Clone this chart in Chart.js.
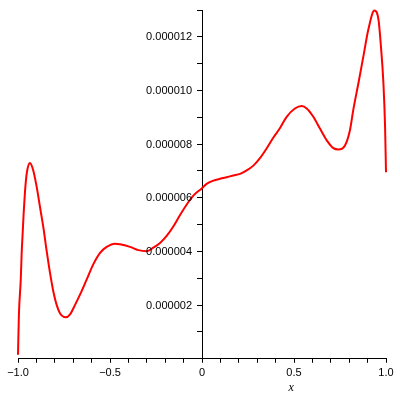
<!DOCTYPE html>
<html>
<head>
<meta charset="utf-8">
<script src="https://cdn.jsdelivr.net/npm/chart.js@4.4.0/dist/chart.umd.min.js"></script>
<style>
  html, body { margin: 0; padding: 0; background: #fff; }
  canvas { display: block; }
</style>
</head>
<body>
<canvas id="plot" width="400" height="400"></canvas>
<script>
// curve samples
const xs = [
  -1.0, -0.995, -0.985, -0.98, -0.974, -0.969, -0.964, -0.957, -0.95, -0.935,
  -0.917, -0.898, -0.88, -0.862, -0.844, -0.826, -0.808, -0.79, -0.772, -0.741,
  -0.717, -0.69, -0.663, -0.627, -0.591, -0.554, -0.518, -0.473, -0.446, -0.391,
  -0.346, -0.30, -0.265, -0.228, -0.192, -0.156, -0.12, -0.083, -0.047, 0,
  0.025, 0.062, 0.098, 0.134, 0.17, 0.207, 0.243, 0.279, 0.315, 0.352,
  0.388, 0.424, 0.46, 0.505, 0.542, 0.569, 0.605, 0.641, 0.678, 0.714,
  0.741, 0.777, 0.804, 0.822, 0.85, 0.877, 0.904, 0.937, 0.959, 0.971,
  0.986, 0.995, 1.0
];
const ys = [
  0.15e-6, 1.65e-6, 2.96e-6, 3.95e-6, 4.77e-6, 5.45e-6, 6.02e-6, 6.64e-6, 7.02e-6, 7.30e-6,
  7.02e-6, 6.39e-6, 5.64e-6, 4.89e-6, 4.01e-6, 3.20e-6, 2.51e-6, 2.01e-6, 1.70e-6, 1.55e-6,
  1.66e-6, 2.01e-6, 2.39e-6, 2.95e-6, 3.52e-6, 3.95e-6, 4.17e-6, 4.29e-6, 4.27e-6, 4.17e-6,
  4.05e-6, 4.01e-6, 4.14e-6, 4.32e-6, 4.58e-6, 4.93e-6, 5.35e-6, 5.75e-6, 6.08e-6, 6.36e-6,
  6.52e-6, 6.64e-6, 6.71e-6, 6.77e-6, 6.83e-6, 6.89e-6, 7.02e-6, 7.20e-6, 7.48e-6, 7.85e-6,
  8.25e-6, 8.60e-6, 9.02e-6, 9.33e-6, 9.42e-6, 9.33e-6, 9.02e-6, 8.58e-6, 8.14e-6, 7.85e-6,
  7.80e-6, 7.95e-6, 8.52e-6, 9.27e-6, 10.27e-6, 11.27e-6, 12.27e-6, 12.98e-6, 12.65e-6, 11.77e-6,
  10.27e-6, 8.64e-6, 6.95e-6
];
const xTickLabels = { "-1": "\u22121.0", "-0.5": "\u22120.5", "0": "0", "0.5": "0.5", "1": "1.0" };
const yTickValues = [2e-6, 4e-6, 6e-6, 8e-6, 10e-6, 12e-6];
const yTickLabels = ["0.000002", "0.000004", "0.000006", "0.000008", "0.000010", "0.000012"];

const points = xs.map((x, i) => ({ x: x, y: ys[i] }));

// y labels sit left of the centred axis, "x" sits under the right half
const axisText = {
  id: "axisText",
  afterDraw(chart) {
    const ctx = chart.ctx;
    const xScale = chart.scales.x;
    const yScale = chart.scales.y;
    const axisX = xScale.getPixelForValue(0);
    ctx.save();
    ctx.fillStyle = "#000";
    ctx.font = "11px 'Liberation Sans'";
    ctx.textAlign = "right";
    ctx.textBaseline = "middle";
    yTickValues.forEach((v, i) => {
      ctx.fillText(yTickLabels[i], axisX - 10, yScale.getPixelForValue(v) + 0.5);
    });
    ctx.font = "italic 12px 'Liberation Serif'";
    ctx.textAlign = "center";
    ctx.fillText("x", xScale.getPixelForValue(0.485), 388);
    ctx.restore();
  },
};

new Chart(document.getElementById("plot").getContext("2d"), {
  type: "line",
  data: {
    datasets: [
      {
        data: points,
        borderColor: "#ff0000",
        borderWidth: 2,
        pointRadius: 0,
        fill: false,
        cubicInterpolationMode: "monotone",
        clip: false,
      },
    ],
  },
  options: {
    responsive: false,
    animation: false,
    layout: { padding: { left: 18, right: 14, top: 10, bottom: 16 } },
    plugins: { legend: { display: false }, tooltip: { enabled: false } },
    scales: {
      x: {
        type: "linear",
        position: "bottom",
        min: -1,
        max: 1,
        grid: { drawOnChartArea: false, drawTicks: true, tickLength: 4, color: "#000" },
        border: { display: true, color: "#000", width: 1 },
        ticks: {
          stepSize: 0.1,
          autoSkip: false,
          maxRotation: 0,
          padding: 4,
          color: "#000",
          font: { family: "'Liberation Sans'", size: 11 },
          callback: function (v) {
            const key = String(Math.round(v * 10) / 10);
            return xTickLabels[key] || "";
          },
        },
      },
      y: {
        type: "linear",
        position: { x: 0 },
        min: 0,
        max: 1.3e-5,
        grid: { drawOnChartArea: false, drawTicks: true, tickLength: 5, color: "#000" },
        border: { display: true, color: "#000", width: 1 },
        ticks: {
          stepSize: 1e-6,
          autoSkip: false,
          display: false,
        },
      },
    },
  },
  plugins: [axisText],
});
</script>
</body>
</html>
